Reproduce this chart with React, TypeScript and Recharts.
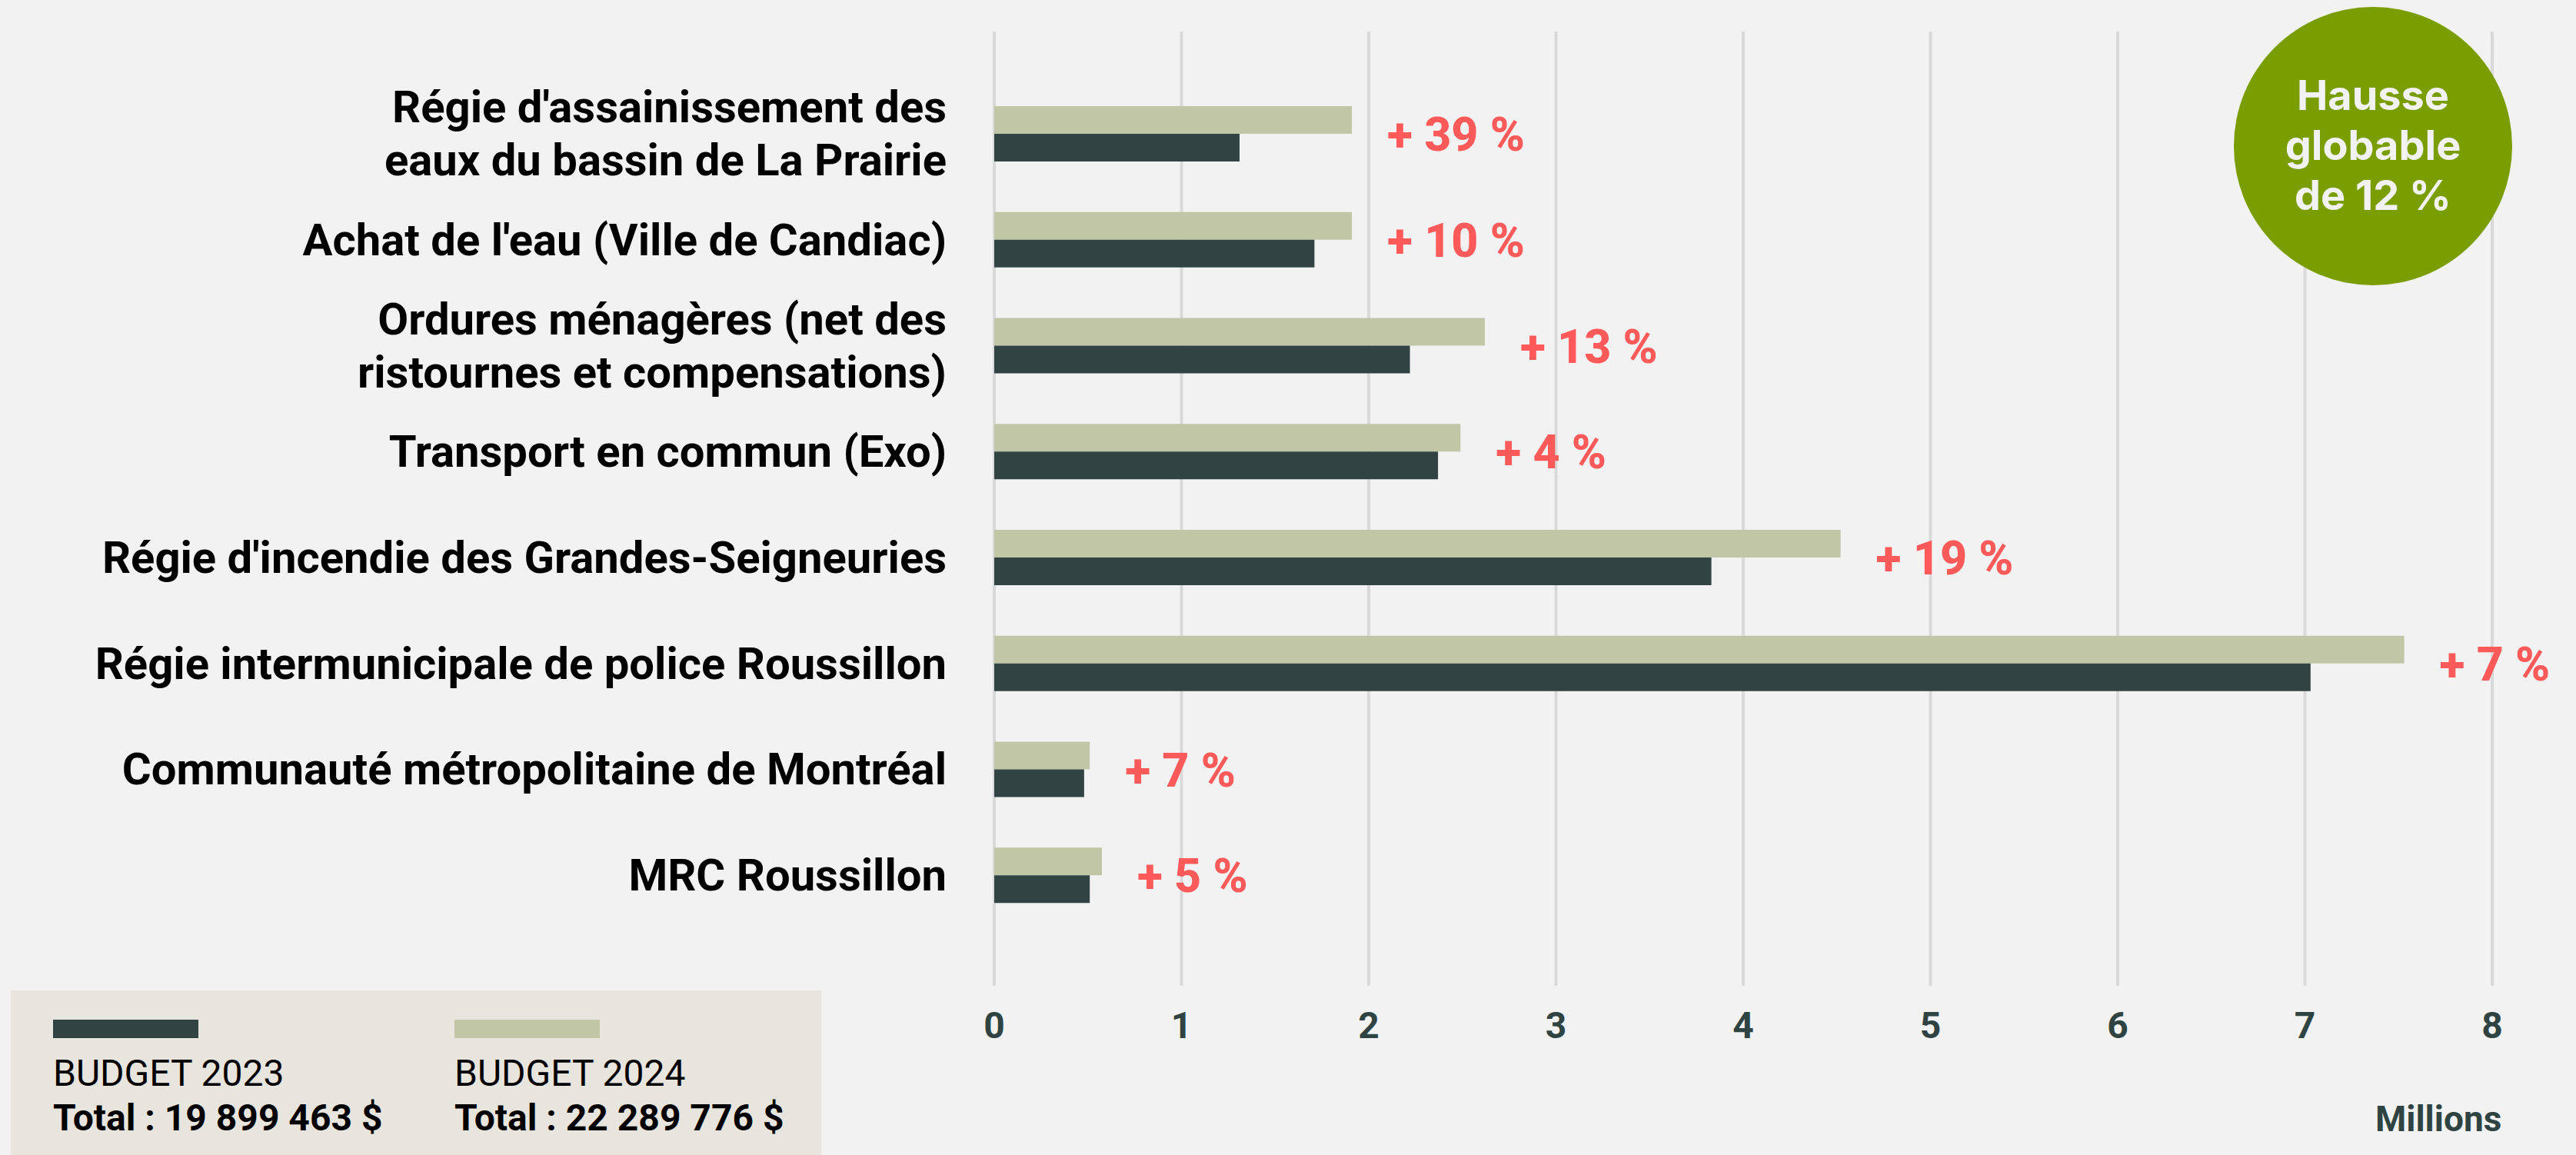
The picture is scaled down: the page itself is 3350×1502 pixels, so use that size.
import React from "react";
import { BarChart, Bar, XAxis, YAxis, CartesianGrid, LabelList } from "recharts";

const categories = [
  "Régie d'assainissement des\neaux du bassin de La Prairie",
  "Achat de l'eau (Ville de Candiac)",
  "Ordures ménagères (net des\nristournes et compensations)",
  "Transport en commun (Exo)",
  "Régie d'incendie des Grandes-Seigneuries",
  "Régie intermunicipale de police Roussillon",
  "Communauté métropolitaine de Montréal",
  "MRC Roussillon",
];
const budget2023 = [1.31, 1.71, 2.22, 2.37, 3.83, 7.03, 0.48, 0.51];
const budget2024 = [1.91, 1.91, 2.62, 2.49, 4.52, 7.53, 0.51, 0.575];
const hausses = ["+ 39 %", "+ 10 %", "+ 13 %", "+ 4 %", "+ 19 %", "+ 7 %", "+ 7 %", "+ 5 %"];
const xTicks = [0, 1, 2, 3, 4, 5, 6, 7, 8];
const badgeLines = ["Hausse", "globable", "de 12 %"];

const DARK = "#314443";
const LIGHT = "#C1C7A6";
const RED = "#FF5A5A";
const BG = "#F2F2F2";

const data = categories.map((name, i) => ({
  name,
  b2023: budget2023[i],
  b2024: budget2024[i],
  hausse: hausses[i],
}));

const YTick = ({ x, y, payload }: any) => {
  const lines = String(payload.value).split("\n");
  const lh = 69;
  const start = -((lines.length - 1) * lh) / 2;
  return (
    <text x={x} y={y} textAnchor="end" fontFamily="Roboto" fontWeight={700} fontSize={58} fill="#000">
      {lines.map((l, i) => (
        <tspan key={i} x={x} dy={i === 0 ? start + 20 : lh}>
          {l}
        </tspan>
      ))}
    </text>
  );
};

const XTick = ({ x, y, payload }: any) => (
  <text x={x} y={y + 68} textAnchor="middle" fontFamily="Roboto" fontWeight={700} fontSize={48} fill="#2F4442">
    {payload.value}
  </text>
);

const HausseLabel = ({ x, y, width, height, value }: any) => (
  <text
    x={x + width + 46}
    y={y + height + 22}
    fontFamily="Roboto"
    fontWeight={800}
    fontSize={61}
    fill={RED}
  >
    {value}
  </text>
);

export default function App() {
  return (
    <div style={{ position: "absolute", left: 0, top: 0, width: 3350, height: 1502, background: BG, overflow: "hidden" }}>
      <BarChart
        layout="vertical"
        width={3350}
        height={1502}
        data={data}
        margin={{ top: 41, right: 109, bottom: 0, left: 0 }}
        barGap={0}
      >
        <CartesianGrid horizontal={false} stroke="#D9D9D9" strokeWidth={4} />
        <XAxis
          type="number"
          domain={[0, 8]}
          ticks={xTicks}
          height={220}
          axisLine={false}
          tickLine={false}
          tickSize={0}
          tickMargin={0}
          tick={<XTick />}
        />
        <YAxis
          type="category"
          dataKey="name"
          width={1293}
          axisLine={false}
          tickLine={false}
          tickSize={0}
          tickMargin={62}
          padding={{ top: 64, bottom: 75 }}
          tick={<YTick />}
          interval={0}
        />
        <Bar dataKey="b2024" fill={LIGHT} barSize={36} isAnimationActive={false}>
          <LabelList dataKey="hausse" content={<HausseLabel />} />
        </Bar>
        <Bar dataKey="b2023" fill={DARK} barSize={36} isAnimationActive={false} />
      </BarChart>

      <div
        style={{
          position: "absolute",
          left: 3089,
          top: 1432,
          fontFamily: "Roboto",
          fontWeight: 700,
          fontSize: 46,
          lineHeight: "46px",
          color: "#2F4442",
        }}
      >
        Millions
      </div>

      <div
        style={{
          position: "absolute",
          left: 2905,
          top: 9,
          width: 362,
          height: 362,
          borderRadius: "50%",
          background: "#7A9D01",
          color: BG,
          fontFamily: "Inter",
          fontWeight: 700,
          fontSize: 54,
          textAlign: "center",
          display: "flex",
          flexDirection: "column",
          alignItems: "center",
          justifyContent: "center",
        }}
      >
        <div style={{ marginTop: -4 }}>
          {badgeLines.map((l) => (
            <div key={l} style={{ height: 65, lineHeight: "65px", whiteSpace: "nowrap" }}>
              {l}
            </div>
          ))}
        </div>
      </div>

      <div
        style={{
          position: "absolute",
          left: 14,
          top: 1288,
          width: 1054,
          height: 214,
          background: "#E7E5DD",
          fontFamily: "Roboto",
          color: "#000",
        }}
      >
        {[
          { c: DARK, t: "BUDGET 2023", s: "Total : 19 899 463 $", l: 55 },
          { c: LIGHT, t: "BUDGET 2024", s: "Total : 22 289 776 $", l: 577 },
        ].map((e) => (
          <React.Fragment key={e.t}>
            <div style={{ position: "absolute", left: e.l, top: 38, width: 189, height: 24, background: e.c }} />
            <div style={{ position: "absolute", left: e.l, top: 84, fontSize: 48, lineHeight: "48px", whiteSpace: "nowrap" }}>
              {e.t}
            </div>
            <div
              style={{
                position: "absolute",
                left: e.l,
                top: 142,
                fontSize: 48,
                lineHeight: "48px",
                fontWeight: 700,
                whiteSpace: "nowrap",
              }}
            >
              {e.s}
            </div>
          </React.Fragment>
        ))}
      </div>
    </div>
  );
}
